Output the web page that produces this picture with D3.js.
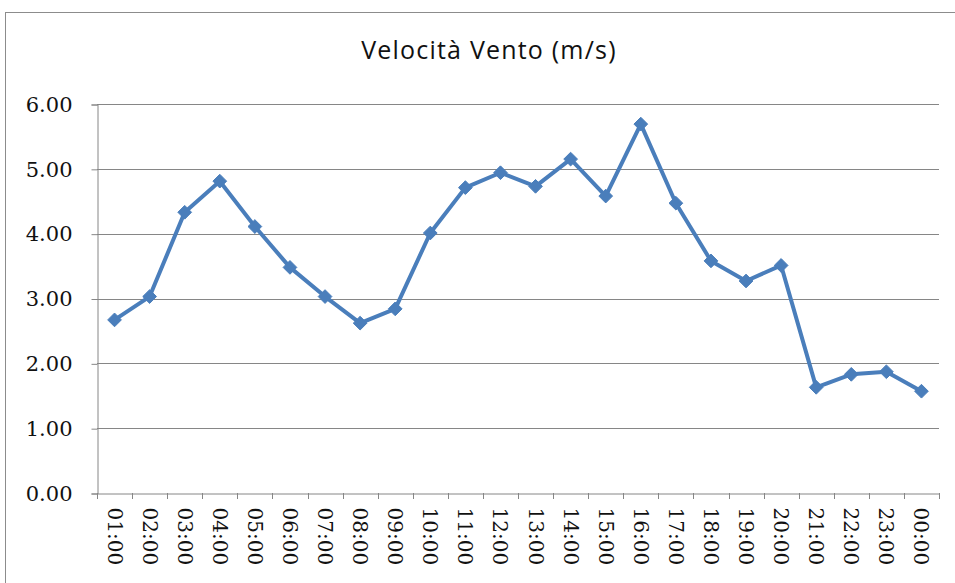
<!DOCTYPE html>
<html>
<head>
<meta charset="utf-8">
<script src="https://cdn.jsdelivr.net/npm/d3@7"></script>
<style>
  body { margin: 0; background: #fff; }
</style>
</head>
<body>
<div class="chart"></div>
<script>
var hours = ["01:00","02:00","03:00","04:00","05:00","06:00","07:00","08:00","09:00","10:00","11:00","12:00",
             "13:00","14:00","15:00","16:00","17:00","18:00","19:00","20:00","21:00","22:00","23:00","00:00"];
var windSpeed = [2.67, 3.03, 4.33, 4.81, 4.11, 3.48, 3.03, 2.62, 2.84, 4.01, 4.71, 4.94,
                 4.73, 5.15, 4.58, 5.69, 4.47, 3.58, 3.27, 3.51, 1.63, 1.83, 1.87, 1.57];
var yTicks = [0, 1, 2, 3, 4, 5, 6];
var title = "Velocità Vento (m/s)";

(function() {
    var width = 955, height = 583;
    var left = 97, right = 939, top = 104, bottom = 493;

    var svg = d3.select(".chart")
                .append("svg")
                .attr("width", width)
                .attr("height", height);

    // outer chart frame
    svg.append("rect")
        .attr("x", 5.5).attr("y", 12.5)
        .attr("width", 960).attr("height", 600)
        .attr("fill", "none")
        .attr("stroke", "#8c8c8c")
        .attr("stroke-width", 1);

    svg.append("text")
        .attr("x", 489).attr("y", 59)
        .attr("text-anchor", "middle")
        .attr("font-family", "'Open Sans', sans-serif")
        .attr("font-size", 25)
        .attr("letter-spacing", 1.2)
        .attr("fill", "#111")
        .text(title);

    var x = d3.scaleBand().domain(hours).range([left, right]);
    var y = d3.scaleLinear().domain([0, 6]).range([bottom, top]);

    // gridlines
    svg.append("g")
        .selectAll("line")
        .data(yTicks.filter(function(d) { return d > 0; }))
        .enter().append("line")
        .attr("x1", left).attr("x2", right)
        .attr("y1", function(d) { return Math.round(y(d)) + 0.5; })
        .attr("y2", function(d) { return Math.round(y(d)) + 0.5; })
        .attr("stroke", "#868686")
        .attr("stroke-width", 1);

    // y axis
    var yAxis = svg.append("g")
        .attr("transform", "translate(" + (left + 0.5) + ",0.5)")
        .call(d3.axisLeft(y).tickValues(yTicks).tickSize(6).tickPadding(19)
              .tickFormat(function(d) { return d3.format(".2f")(d); }));
    yAxis.select(".domain").attr("stroke", "#868686");
    yAxis.selectAll(".tick line").attr("stroke", "#868686");
    yAxis.selectAll("text")
        .attr("font-family", "'DejaVu Serif', serif")
        .attr("font-size", 21)
        .attr("fill", "#111");

    // x axis
    var xAxis = svg.append("g")
        .attr("transform", "translate(0," + (bottom + 0.5) + ")")
        .call(d3.axisBottom(x).tickSize(0).tickPadding(0));
    xAxis.select(".domain").attr("stroke", "#868686");
    xAxis.selectAll("text")
        .attr("font-family", "'DejaVu Serif', serif")
        .attr("font-size", 20)
        .attr("fill", "#111")
        .attr("text-anchor", "start")
        .attr("dy", "0.35em")
        .attr("transform", "translate(0,14) rotate(90)");

    // category boundary ticks
    svg.append("g")
        .selectAll("line")
        .data(hours.concat(["end"]))
        .enter().append("line")
        .attr("x1", function(d, i) { return Math.round(left + i * x.step()) + 0.5; })
        .attr("x2", function(d, i) { return Math.round(left + i * x.step()) + 0.5; })
        .attr("y1", bottom).attr("y2", bottom + 6)
        .attr("stroke", "#868686");

    var line = d3.line()
        .x(function(d, i) { return x(hours[i]) + x.bandwidth() / 2; })
        .y(function(d) { return y(d); });

    svg.append("path")
        .datum(windSpeed)
        .attr("d", line)
        .attr("fill", "none")
        .attr("stroke", "#4a7ebb")
        .attr("stroke-width", 4)
        .attr("stroke-linejoin", "round");

    svg.append("g")
        .selectAll("path")
        .data(windSpeed)
        .enter().append("path")
        .attr("d", d3.symbol().type(d3.symbolDiamond2).size(120))
        .attr("transform", function(d, i) {
            return "translate(" + (x(hours[i]) + x.bandwidth() / 2) + "," + y(d) + ")";
        })
        .attr("fill", "#4a7ebb")
        .attr("stroke", "#4a7ebb")
        .attr("stroke-width", 1);
})();
</script>
</body>
</html>
